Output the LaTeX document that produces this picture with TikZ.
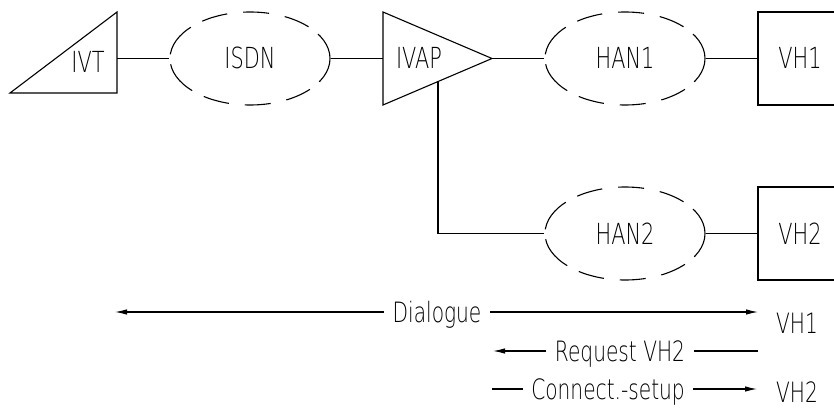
\documentclass[tikz,border=0pt]{standalone}
\usepackage{fontspec}
\IfFontExistsTF{DejaVu Sans ExtraLight}
  {\setmainfont{DejaVu Sans ExtraLight}[FakeStretch=0.72]}
  {\setmainfont{Liberation Sans}[FakeStretch=0.8]}
\usetikzlibrary{shapes.geometric,arrows.meta}
\begin{document}
\begin{tikzpicture}[x=1pt,y=-1pt,
  line width=1.1pt,
  cloud/.style={ellipse, draw, minimum width=160pt, minimum height=93pt, inner sep=0pt,
    font=\fontsize{29}{30}\selectfont, text height=21pt, text depth=0pt,
    dash pattern=on 56pt off 12pt on 26pt off 16pt on 26pt off 16pt on 26pt off 13pt on 35pt off 10pt on 35pt off 13pt on 26pt off 16pt on 26pt off 16pt on 26pt off 12pt,
    dash phase=28pt},
  lbl/.style={font=\fontsize{29}{30}\selectfont, inner sep=0pt, text height=21pt, text depth=0pt},
  hostbox/.style={draw, minimum width=84pt, minimum height=93pt, inner sep=0pt,
    font=\fontsize{29}{30}\selectfont, text height=21pt, text depth=0pt},
  msg/.style={font=\fontsize{28}{30}\selectfont, inner xsep=8pt, inner ysep=0pt, text height=20pt, text depth=0pt},
  arr/.style={-{Latex[length=12pt,width=5.5pt]}}
]
\useasboundingbox (0,0) rectangle (834,409);
\clip (0,0) rectangle (834,409);

% IVT terminal
\draw (10,93) -- (117,12) -- (117,93) -- cycle;
\node[lbl] (ivt) at (88,62.5) {IVT};
\coordinate (ivtE) at (117,58.5);

% IVAP
\draw (383,12) -- (492,58.5) -- (383,105) -- cycle;
\node[lbl] (ivap) at (419,58) {IVAP};
\coordinate (ivapW) at (383,58.5);
\coordinate (ivapE) at (492,58.5);
\coordinate (ivapS) at (438,81.5);

% networks
\node[cloud] (isdn) at (250,58.5) {ISDN};
\node[cloud] (han1) at (625,58.5) {HAN1};
\node[cloud] (han2) at (625,233.5) {HAN2};

% hosts
\node[hostbox] (vh1) at (800,58.5) {VH1};
\node[hostbox] (vh2) at (800,233.5) {VH2};

% connectors
\draw (ivtE) -- (isdn.west);
\draw (isdn.east) -- (ivapW);
\draw (ivapE) -- (han1.west);
\draw (han1.east) -- (vh1.west);
\draw (ivapS) |- (han2.west);
\draw (han2.east) -- (vh2.west);

% message sequence
\node[msg] (dlg) at (437,312) {Dialogue};
\coordinate (dlgL) at (115,312);
\coordinate (dlgR) at (758,312);
\draw[arr] (dlg.west) -- (dlgL);
\draw[arr] (dlg.east) -- (dlgR);

\node[msg] (req) at (620,351) {Request VH2};
\coordinate (reqL) at (493,351);
\coordinate (reqR) at (758,351);
\draw[arr] (req.west) -- (reqL);
\draw (req.east) -- (reqR);

\node[msg] (con) at (608,389) {Connect.-setup};
\coordinate (conL) at (492,389);
\coordinate (conR) at (757,389);
\draw (con.west) -- (conL);
\draw[arr] (con.east) -- (conR);

\node[msg, inner xsep=0pt] (t1) at (797,323) {VH1};
\node[msg, inner xsep=0pt] (t2) at (797,392) {VH2};
\end{tikzpicture}
\end{document}
